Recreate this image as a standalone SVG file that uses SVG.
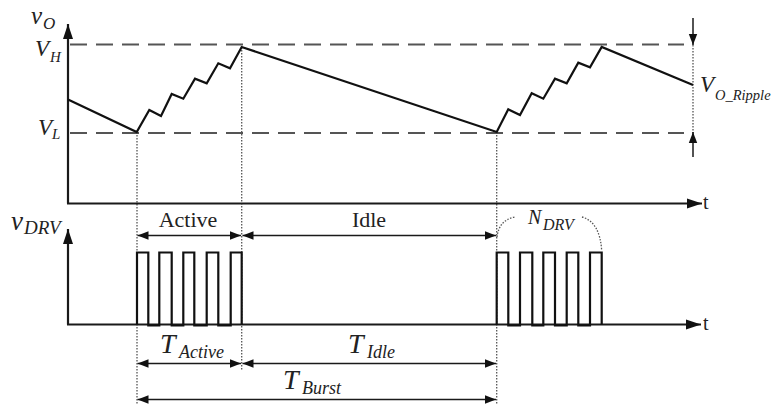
<svg xmlns="http://www.w3.org/2000/svg" width="771" height="405" viewBox="0 0 771 405">
<style>
.ax{stroke:#1a1a1a;stroke-width:2.2;fill:none}
.wave{stroke:#111;stroke-width:2.2;fill:none;stroke-linejoin:miter}
.dash{stroke:#555;stroke-width:2;stroke-dasharray:17 9;fill:none}
.dot{stroke:#555;stroke-width:1.3;stroke-dasharray:1.5 1.5;fill:none}
.dim{stroke:#1a1a1a;stroke-width:1.5;fill:none}
.it{font-style:italic;fill:#222}
.rm{fill:#222}
</style>
<defs>
<marker id="ah" markerUnits="userSpaceOnUse" markerWidth="16" markerHeight="12" refX="15" refY="6" orient="auto-start-reverse" viewBox="0 0 16 12">
<path d="M0,1 L15,6 L0,11 Z" fill="#111"/>
</marker>
<marker id="dh" markerUnits="userSpaceOnUse" markerWidth="12" markerHeight="10" refX="11" refY="5" orient="auto-start-reverse" viewBox="0 0 12 10">
<path d="M0,0.8 L11,5 L0,9.2 Z" fill="#111"/>
</marker>
</defs>
<rect width="771" height="405" fill="#fff"/>

<g id="guides">
<line class="dash" x1="70" y1="44.5" x2="684" y2="44.5"/>
<line class="dash" x1="70" y1="133" x2="684" y2="133"/>
<line class="dot" x1="137" y1="132" x2="137" y2="404"/>
<line class="dot" x1="241.7" y1="47" x2="241.7" y2="370"/>
<line class="dot" x1="496.7" y1="132" x2="496.7" y2="404"/>
<line class="dot" x1="693" y1="45" x2="693" y2="133"/>
</g>

<g id="axes">
<line class="ax" x1="68" y1="203.5" x2="68" y2="24" marker-end="url(#ah)"/>
<line class="ax" x1="67" y1="203.5" x2="702" y2="203.5" marker-end="url(#ah)"/>
<line class="ax" x1="68" y1="324.5" x2="68" y2="229" marker-end="url(#ah)"/>
<line class="ax" x1="67" y1="324.5" x2="701" y2="324.5" marker-end="url(#ah)"/>
</g>

<g id="vo-wave">
<path class="wave" d="M68,99.5 L136.7,132 L149.3,110 L161,116 L171.7,94 L183.3,98.7 L195,78.7 L206.7,83.3 L218.3,63.3 L230,68.3 L241.7,47 L496.7,132 L508.3,109.3 L520,115 L531.7,93.3 L543.3,98.7 L555,78.7 L566.7,83.3 L578.3,62.7 L590,67.3 L601.7,47 L693,85"/>
</g>

<g id="drv-wave">
<path class="wave" d="M137,324.5 V252.5 H148.3 V325.5 H159.3 V252.5 H171.7 V325.5 H183.3 V252.5 H194.3 V325.5 H206.7 V252.5 H218.3 V325.5 H230.7 V252.5 H241.7 V324.5"/>
<path class="wave" d="M496.7,324.5 V252.5 H508.3 V325.5 H520 V252.5 H532.3 V325.5 H543.3 V252.5 H555 V325.5 H566.7 V252.5 H578.3 V325.5 H590 V252.5 H601.7 V324.5"/>
</g>

<g id="connectors">
<line class="dim" x1="137.5" y1="235.5" x2="241" y2="235.5" marker-start="url(#dh)" marker-end="url(#dh)"/>
<line class="dim" x1="242.5" y1="235.5" x2="496" y2="235.5" marker-start="url(#dh)" marker-end="url(#dh)"/>
<line class="dim" x1="137.5" y1="363.5" x2="241" y2="363.5" marker-start="url(#dh)" marker-end="url(#dh)"/>
<line class="dim" x1="242.5" y1="363.5" x2="496" y2="363.5" marker-start="url(#dh)" marker-end="url(#dh)"/>
<line class="dim" x1="137.5" y1="399.5" x2="496" y2="399.5" marker-start="url(#dh)" marker-end="url(#dh)"/>
<line class="dim" x1="693" y1="18" x2="693" y2="45" marker-end="url(#dh)"/>
<line class="dim" x1="693" y1="157" x2="693" y2="132" marker-end="url(#dh)"/>
<path class="dot" d="M497,237 Q499,220 515,217"/>
<path class="dot" d="M582,217 Q600,222 601.7,251"/>
</g>

<g id="labels" font-family="Liberation Serif, DejaVu Serif, serif">
<text class="it" x="31" y="24" font-size="25">v</text><text class="it" x="43" y="29" font-size="17">O</text>
<text class="it" x="35" y="56" font-size="23">V</text><text class="it" x="50" y="62" font-size="15">H</text>
<text class="it" x="38" y="135" font-size="23">V</text><text class="it" x="52" y="139" font-size="15">L</text>
<text class="it" x="11" y="230" font-size="27">v</text><text class="it" x="24" y="234" font-size="19">DRV</text>
<text class="it" x="700" y="92" font-size="23">V</text><text class="it" x="715" y="100" font-size="14.5">O_Ripple</text>
<text class="rm" x="703" y="209" font-size="20">t</text>
<text class="rm" x="703" y="330" font-size="20">t</text>
<text class="rm" x="188" y="227" font-size="22" text-anchor="middle">Active</text>
<text class="rm" x="369" y="227" font-size="22" text-anchor="middle">Idle</text>
<text class="it" x="528" y="224" font-size="20">N</text><text class="it" x="543" y="230" font-size="16">DRV</text>
<text class="it" x="160" y="353" font-size="28">T</text><text class="it" x="179" y="358" font-size="18">Active</text>
<text class="it" x="348" y="353" font-size="28">T</text><text class="it" x="367" y="358" font-size="18">Idle</text>
<text class="it" x="283" y="389" font-size="28">T</text><text class="it" x="302" y="394" font-size="18">Burst</text>
</g>
</svg>
